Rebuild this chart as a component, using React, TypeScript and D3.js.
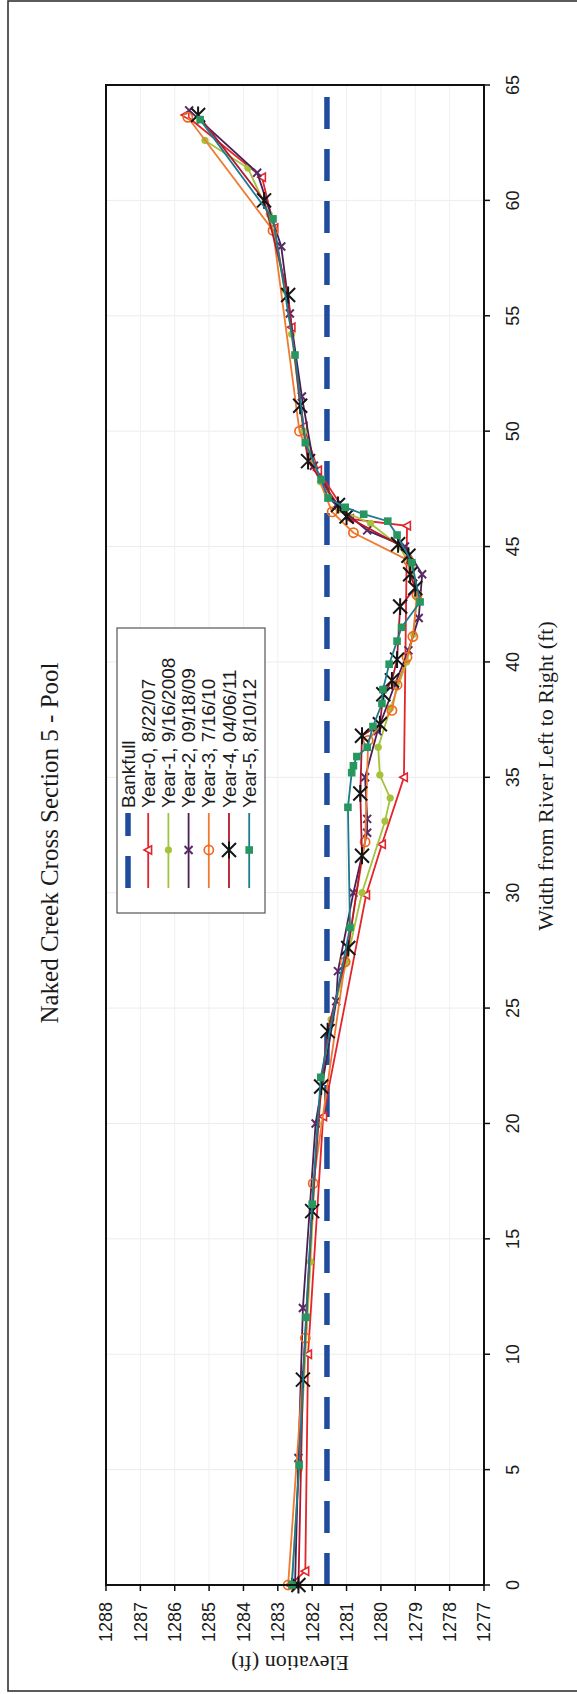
import React from "react";
import * as d3 from "d3";

const PAGE_W = 577;
const PAGE_H = 1694;

const titleText = "Naked Creek Cross Section 5 - Pool";
const xTitle = "Width from River Left to Right (ft)";
const yTitle = "Elevation (ft)";

const widthTicks = [0, 5, 10, 15, 20, 25, 30, 35, 40, 45, 50, 55, 60, 65];
const elevationTicks = [1277, 1278, 1279, 1280, 1281, 1282, 1283, 1284, 1285, 1286, 1287, 1288];

const bankfullElevation = 1281.57;
const bankfullWidths = [0, 65];

const year0: [number, number][] = [
  [0, 1282.65], [0.6, 1282.2], [10.0, 1282.12], [20.3, 1281.68], [29.9, 1280.43], [32.1, 1279.97],
  [35.0, 1279.33], [45.9, 1279.24], [46.2, 1280.9], [48.3, 1281.83], [50.2, 1282.25], [54.5, 1282.6],
  [58.8, 1283.1], [61.0, 1283.46], [63.7, 1285.69],
];
const year1: [number, number][] = [
  [0, 1282.6], [5.0, 1282.38], [14.0, 1282.05], [20.0, 1281.85], [24.5, 1281.45], [27.0, 1281.0],
  [30.0, 1280.55], [33.1, 1279.88], [34.1, 1279.73], [35.1, 1280.03], [36.3, 1280.08], [38.0, 1279.72],
  [40.0, 1279.25], [41.2, 1279.05], [42.8, 1278.95], [44.0, 1279.1], [45.0, 1279.45], [46.0, 1280.3],
  [46.6, 1281.2], [47.8, 1281.75], [50.0, 1282.25], [54.2, 1282.6], [56.1, 1282.78], [59.4, 1283.25],
  [61.4, 1283.87], [62.6, 1285.12],
];
const year2: [number, number][] = [
  [0, 1282.5], [5.5, 1282.4], [12.0, 1282.27], [20.0, 1281.9], [25.3, 1281.3], [26.6, 1281.25],
  [30.0, 1280.8], [32.6, 1280.4], [33.2, 1280.4], [35.0, 1280.46], [37.0, 1280.1], [39.0, 1279.6],
  [40.5, 1279.2], [41.9, 1278.9], [43.8, 1278.8], [45.0, 1279.3], [45.7, 1280.4], [46.8, 1281.3],
  [48.5, 1281.95], [51.5, 1282.3], [55.1, 1282.65], [58.0, 1282.9], [61.2, 1283.6], [63.9, 1285.58],
];
const year3: [number, number][] = [
  [0, 1282.7], [10.7, 1282.2], [17.4, 1281.97], [27.0, 1281.04], [32.2, 1280.46], [36.6, 1280.37],
  [37.9, 1279.68], [39.0, 1279.53], [40.2, 1279.24], [41.1, 1279.07], [42.9, 1278.95], [44.4, 1279.2],
  [45.6, 1280.8], [46.5, 1281.42], [50.0, 1282.37], [58.7, 1283.14], [63.6, 1285.62],
];
const year4: [number, number][] = [
  [0, 1282.4], [8.9, 1282.27], [16.2, 1282.0], [21.6, 1281.74], [24.0, 1281.55], [27.6, 1280.95],
  [31.6, 1280.55], [34.3, 1280.6], [36.8, 1280.55], [37.3, 1280.03], [38.6, 1279.93], [39.2, 1279.68],
  [40.1, 1279.53], [42.4, 1279.44], [43.2, 1279.0], [43.8, 1279.15], [44.6, 1279.2], [45.1, 1279.5],
  [46.3, 1281.0], [46.8, 1281.25], [48.7, 1282.12], [51.1, 1282.35], [55.9, 1282.7], [60.0, 1283.4],
  [63.7, 1285.32],
];
const year5: [number, number][] = [
  [0, 1282.59], [5.2, 1282.38], [11.6, 1282.18], [16.5, 1282.0], [22.0, 1281.75], [28.5, 1280.9],
  [33.7, 1280.96], [35.2, 1280.85], [35.5, 1280.8], [35.9, 1280.7], [36.3, 1280.4], [37.2, 1280.23],
  [38.2, 1279.97], [38.8, 1279.94], [39.9, 1279.76], [40.9, 1279.53], [41.5, 1279.4], [42.6, 1278.86],
  [44.3, 1279.1], [45.5, 1279.53], [46.1, 1279.8], [46.4, 1280.5], [46.7, 1281.04], [47.1, 1281.54],
  [47.9, 1281.74], [49.5, 1282.2], [53.3, 1282.5], [59.2, 1283.14], [63.5, 1285.26],
];

const legendNames = [
  "Bankfull",
  "Year-0, 8/22/07",
  "Year-1, 9/16/2008",
  "Year-2, 09/18/09",
  "Year-3, 7/16/10",
  "Year-4, 04/06/11",
  "Year-5, 8/10/12",
];

type MarkerKind = "triangle" | "dot" | "x" | "circle" | "asterisk" | "square";
interface Series {
  data: [number, number][];
  line: string;
  marker: MarkerKind;
  mColor: string;
}
const seriesList: Series[] = [
  { data: year0, line: "#E3242B", marker: "triangle", mColor: "#E3242B" },
  { data: year1, line: "#A4C23A", marker: "dot", mColor: "#A4C23A" },
  { data: year2, line: "#4A1F55", marker: "x", mColor: "#5A2A66" },
  { data: year3, line: "#F07A32", marker: "circle", mColor: "#F06A1E" },
  { data: year4, line: "#B3182C", marker: "asterisk", mColor: "#151515" },
  { data: year5, line: "#1C7A8E", marker: "square", mColor: "#27975F" },
];

// landscape frame (before rotation)
const L = { left: 109, right: 1609, top: 106, bottom: 484 };

function Marker({ kind, cx, cy, color }: { kind: MarkerKind; cx: number; cy: number; color: string }) {
  switch (kind) {
    case "triangle": {
      const s = 4.2;
      return (
        <path
          d={`M${cx},${cy - s}L${cx + s},${cy + s * 0.8}L${cx - s},${cy + s * 0.8}Z`}
          fill="white"
          stroke={color}
          strokeWidth={1.6}
        />
      );
    }
    case "dot":
      return <circle cx={cx} cy={cy} r={3.3} fill={color} stroke={color} strokeWidth={0.8} />;
    case "x": {
      const s = 4;
      return (
        <path
          d={`M${cx - s},${cy - s}L${cx + s},${cy + s}M${cx - s},${cy + s}L${cx + s},${cy - s}`}
          stroke={color}
          strokeWidth={2}
        />
      );
    }
    case "circle":
      return <circle cx={cx} cy={cy} r={4.6} fill="none" stroke={color} strokeWidth={1.7} />;
    case "asterisk": {
      const s = 7;
      return (
        <path
          d={`M${cx - s},${cy - s}L${cx + s},${cy + s}M${cx - s},${cy + s}L${cx + s},${cy - s}M${cx - s * 1.2},${cy}L${cx + s * 1.2},${cy}`}
          stroke={color}
          strokeWidth={2}
        />
      );
    }
    case "square": {
      const s = 3.8;
      return <rect x={cx - s} y={cy - s} width={2 * s} height={2 * s} fill={color} />;
    }
  }
  return null;
}

export default function App() {
  const x = d3.scaleLinear().domain([0, 65]).range([L.left, L.right]);
  const y = d3.scaleLinear().domain([1277, 1288]).range([L.bottom, L.top]);
  const line = d3
    .line<[number, number]>()
    .x((d) => x(d[0]))
    .y((d) => y(d[1]));

  const sans = "'Liberation Sans', Arial, sans-serif";
  const serif = "'Liberation Serif', 'Times New Roman', serif";

  const legend = { u0: 781, u1: 1066, v0: 117, v1: 265, row0: 128, rowStep: 20.2 };

  return (
    <svg
      width={PAGE_W}
      height={PAGE_H}
      style={{ position: "absolute", left: 0, top: 0, background: "white" }}
    >
      <rect x={0} y={0} width={PAGE_W} height={PAGE_H} fill="white" />
      <rect x={8} y={1} width={640} height={1690} fill="none" stroke="#333" strokeWidth={1.6} />
      <g transform={`translate(0,${PAGE_H}) rotate(-90)`}>
        {/* gridlines */}
        {widthTicks.map((t) => (
          <line key={"gx" + t} x1={x(t)} x2={x(t)} y1={L.top} y2={L.bottom} stroke="#ececec" strokeWidth={1} />
        ))}
        {elevationTicks.map((t) => (
          <line key={"gy" + t} x1={L.left} x2={L.right} y1={y(t)} y2={y(t)} stroke="#f0f0f0" strokeWidth={1} />
        ))}

        {/* bankfull */}
        <path
          d={line(bankfullWidths.map((w) => [w, bankfullElevation] as [number, number])) || ""}
          fill="none"
          stroke="#1F4C9C"
          strokeWidth={5.5}
          strokeDasharray="32,20"
        />

        {/* series */}
        {seriesList.map((s, i) => (
          <g key={"s" + i}>
            <path d={line(s.data) || ""} fill="none" stroke={s.line} strokeWidth={1.8} />
            {s.data.map((d, j) => (
              <Marker key={j} kind={s.marker} cx={x(d[0])} cy={y(d[1])} color={s.mColor} />
            ))}
          </g>
        ))}

        {/* plot frame */}
        <rect
          x={L.left}
          y={L.top}
          width={L.right - L.left}
          height={L.bottom - L.top}
          fill="none"
          stroke="#111"
          strokeWidth={2}
        />

        {/* width axis ticks + labels */}
        {widthTicks.map((t) => (
          <g key={"wx" + t}>
            <line x1={x(t)} x2={x(t)} y1={L.bottom} y2={L.bottom + 6} stroke="#111" strokeWidth={1.5} />
            <text x={x(t)} y={518.5} textAnchor="middle" fontFamily={sans} fontSize={18} fill="#1a1a1a">
              {t}
            </text>
          </g>
        ))}
        {/* elevation axis ticks + labels */}
        {elevationTicks.map((t) => (
          <g key={"ey" + t}>
            <line x1={L.left} x2={L.left - 6} y1={y(t)} y2={y(t)} stroke="#111" strokeWidth={1.5} />
            <text x={92} y={y(t) + 6.4} textAnchor="end" fontFamily={sans} fontSize={18} fill="#1a1a1a">
              {t}
            </text>
          </g>
        ))}

        {/* titles */}
        <text x={851} y={58} textAnchor="middle" fontFamily={serif} fontSize={25} fill="#1a1a1a">
          {titleText}
        </text>
        <text x={918} y={553} textAnchor="middle" fontFamily={serif} fontSize={22} fill="#1a1a1a">
          {xTitle}
        </text>
        <text
          transform={`translate(38,290) rotate(-90)`}
          textAnchor="middle"
          fontFamily={serif}
          fontSize={22}
          fill="#1a1a1a"
        >
          {yTitle}
        </text>

        {/* legend */}
        <rect
          x={legend.u0}
          y={legend.v0}
          width={legend.u1 - legend.u0}
          height={legend.v1 - legend.v0}
          fill="white"
          stroke="#555"
          strokeWidth={1.2}
        />
        {legendNames.map((name, i) => {
          const v = legend.row0 + i * legend.rowStep;
          const s = i === 0 ? null : seriesList[i - 1];
          return (
            <g key={"lg" + i}>
              {i === 0 ? (
                <line x1={806} x2={881} y1={v} y2={v} stroke="#1F4C9C" strokeWidth={5.5} strokeDasharray="32,20" />
              ) : (
                <>
                  <line x1={806} x2={881} y1={v} y2={v} stroke={s!.line} strokeWidth={1.8} />
                  <Marker kind={s!.marker} cx={844} cy={v} color={s!.mColor} />
                </>
              )}
              <text x={886} y={v + 6.6} fontFamily={sans} fontSize={19} fill="#1a1a1a">
                {name}
              </text>
            </g>
          );
        })}
      </g>
    </svg>
  );
}
